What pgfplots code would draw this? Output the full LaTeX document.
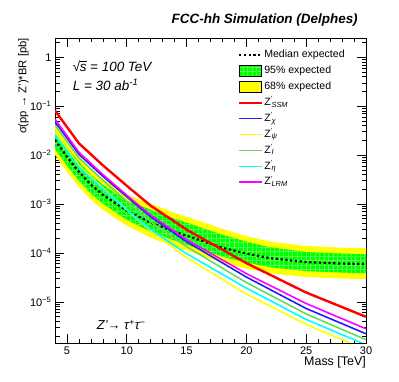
\documentclass[border=0pt]{standalone}
\usepackage{fontspec}
\setmainfont{Liberation Sans}
\usepackage{pgfplots}
\pgfplotsset{compat=1.18}
\usepackage{pgfplotstable}
\usepgfplotslibrary{fillbetween}
\usetikzlibrary{patterns.meta}

\definecolor{rootgreen}{RGB}{0,255,0}
\definecolor{rootyellow}{RGB}{255,255,0}
\definecolor{lineI}{RGB}{110,215,90}
\definecolor{rootblue}{RGB}{30,30,255}
\definecolor{rootmag}{RGB}{255,0,255}
\definecolor{rootcyan}{RGB}{0,255,255}
\definecolor{rootred}{RGB}{255,0,0}

\pgfplotstableread{
m  med      ylo      yhi      glo      ghi
4  0.0205   0.0101   0.0435   0.01343  0.0328
5  0.00923  0.00456  0.01957  0.00605  0.01477
6  0.00456  0.00225  0.00967  0.00299  0.0073
7  0.00248  0.001225 0.00526  0.001624 0.00397
8  0.00155  7.66e-4  0.00329  1.015e-3 0.00248
9  0.00106  5.24e-4  0.00225  6.94e-4  0.0017
10 7.3e-4   3.61e-4  1.55e-3  4.78e-4  1.17e-3
12 4.15e-4  2.05e-4  1.01e-3  2.72e-4  7.65e-4
14 2.72e-4  1.34e-4  6.6e-4   1.78e-4  5.0e-4
16 1.87e-4  9.24e-5  4.55e-4  1.22e-4  3.44e-4
18 1.28e-4  6.3e-5   3.1e-4   8.4e-5   2.35e-4
20 9.7e-5   4.8e-5   2.2e-4   6.35e-5  1.7e-4
22 7.8e-5   3.85e-5  1.7e-4   5.1e-5   1.3e-4
25 6.5e-5   3.2e-5   1.38e-4  4.26e-5  1.04e-4
28 6.05e-5  2.99e-5  1.28e-4  3.96e-5  9.7e-5
30 5.9e-5   2.91e-5  1.25e-4  3.86e-5  9.4e-5
}\bands

\pgfplotstableread{
m  ssm      chi      psi      I        eta      lrm
4  0.0813   0.0485   0.03031  0.04153  0.02596  0.0543
6  0.01741  0.01038  0.00619  0.00881  0.005637 0.01141
8  0.00619  0.003693 0.0021   0.00306  0.002004 0.0040
10 0.002362 0.001409 7.65e-4  0.001141 7.65e-4  0.001512
12 9.23e-4  5.50e-4  2.85e-4  4.35e-4  2.99e-4  5.91e-4
15 2.99e-4  1.70e-4  8.02e-5  1.345e-4 9.67e-5  1.868e-4
20 6.19e-5  3.21e-5  1.443e-5 2.48e-5  1.913e-5 3.78e-5
25 1.548e-5 7.30e-6  3.44e-6  5.64e-6  4.35e-6  9.23e-6
30 4.94e-6  2.22e-6  1.048e-6 1.677e-6 1.326e-6 2.81e-6
}\lines

\pgfplotsset{
  legline/.style={legend image code/.code={\draw[##1] (0bp,0bp) -- (22.6bp,0bp);}},
  legbox/.style={legend image code/.code={\draw[##1] (0bp,-5.5bp) rectangle (22.6bp,5.5bp);}},
  greenband/.style={fill=rootgreen, postaction={pattern={Hatch[angle=0,distance=4.5bp,line width=0.3bp]}, pattern color=rootgreen!65!white}},
}
\newcommand\zp[1]{Z\textsuperscript{'}\kern-0.12em\textsubscript{\textit{#1}}}

\begin{document}
\begin{tikzpicture}
\begin{axis}[
  scale only axis,
  width=311bp, height=305bp,
  ymode=log,
  xmin=4, xmax=30,
  ymin=1.44e-6, ymax=2.48,
  xtick={5,10,15,20,25,30},
  minor xtick={4,6,7,8,9,11,12,13,14,16,17,18,19,21,22,23,24,26,27,28,29},
  ytick={1e-5,1e-4,1e-3,1e-2,1e-1,1},
  yticklabels={10\textsuperscript{−5},10\textsuperscript{−4},10\textsuperscript{−3},10\textsuperscript{−2},10\textsuperscript{−1},1},
  minor ytick={2e-6,3e-6,4e-6,5e-6,6e-6,7e-6,8e-6,9e-6,
    2e-5,3e-5,4e-5,5e-5,6e-5,7e-5,8e-5,9e-5,
    2e-4,3e-4,4e-4,5e-4,6e-4,7e-4,8e-4,9e-4,
    2e-3,3e-3,4e-3,5e-3,6e-3,7e-3,8e-3,9e-3,
    2e-2,3e-2,4e-2,5e-2,6e-2,7e-2,8e-2,9e-2,
    2e-1,3e-1,4e-1,5e-1,6e-1,7e-1,8e-1,9e-1,2},
  major tick length=9bp, minor tick length=4.5bp,
  tick style={black, line width=0.6bp},
  axis line style={line width=0.8bp},
  /pgf/number format/assume math mode=true,
  ticklabel style={font=\fontsize{11}{13}\selectfont},
  title={FCC-hh Simulation (Delphes)},
  title style={at={(axis description cs:0.974,1.039)}, anchor=east, yshift=0pt, inner sep=0pt, font=\fontsize{13.5}{15}\selectfont\bfseries\itshape},
  xlabel={Mass [TeV]},
  xlabel style={at={(axis description cs:1,-0.045)}, anchor=north east, font=\fontsize{12.5}{14}\selectfont, inner sep=0pt},
  ylabel={σ(pp → Z')*BR [pb]},
  ylabel style={at={(axis description cs:-0.084,1.0)}, anchor=south east, font=\fontsize{11.3}{13}\selectfont, inner sep=0pt},
  legend style={at={(axis description cs:0.587,0.967)}, anchor=north west, draw=none, fill=none,
    font=\fontsize{10.6}{12}\selectfont, row sep=2.4bp, inner sep=0pt,
    nodes={text height=8bp, text depth=2.5bp, inner sep=1.5bp}},
  legend cell align=left,
]
% bands
\addplot[name path=yhi, draw=none, forget plot] table[x=m, y=yhi] {\bands};
\addplot[name path=ylo, draw=none, forget plot] table[x=m, y=ylo] {\bands};
\addplot[name path=ghi, draw=none, forget plot] table[x=m, y=ghi] {\bands};
\addplot[name path=glo, draw=none, forget plot] table[x=m, y=glo] {\bands};
\addplot[fill=rootyellow, draw=none, forget plot] fill between[of=yhi and ylo];
\addplot[greenband, draw=none, forget plot] fill between[of=ghi and glo];
\addplot[black, line width=2.2bp, dash pattern=on 2.2bp off 2.6bp, forget plot] table[x=m, y=med] {\bands};
% models
\addplot[rootyellow, line width=1.6bp, forget plot] table[x=m, y=psi] {\lines};
\addplot[rootcyan, line width=1.6bp, forget plot] table[x=m, y=eta] {\lines};
\addplot[lineI, line width=1.6bp, forget plot] table[x=m, y=I] {\lines};
\addplot[rootblue, line width=1.6bp, forget plot] table[x=m, y=chi] {\lines};
\addplot[rootmag, line width=1.6bp, forget plot] table[x=m, y=lrm] {\lines};
\addplot[rootred, line width=2.4bp, forget plot] table[x=m, y=ssm] {\lines};
% legend
\addlegendimage{legline, black, line width=2.2bp, dash pattern=on 2.2bp off 2.6bp}
\addlegendentry{Median expected}
\addlegendimage{legbox, greenband, draw=black, line width=0.5bp}
\addlegendentry{95\% expected}
\addlegendimage{legbox, fill=rootyellow, draw=black, line width=0.5bp}
\addlegendentry{68\% expected}
\addlegendimage{legline, draw=rootred, line width=2.4bp}
\addlegendentry{\zp{SSM}}
\addlegendimage{legline, draw=rootblue, line width=1.6bp}
\addlegendentry{\zp{χ}}
\addlegendimage{legline, draw=rootyellow, line width=1.6bp}
\addlegendentry{\zp{ψ}}
\addlegendimage{legline, draw=lineI, line width=1.6bp}
\addlegendentry{\zp{I}}
\addlegendimage{legline, draw=rootcyan, line width=1.6bp}
\addlegendentry{\zp{η}}
\addlegendimage{legline, draw=rootmag, line width=1.6bp}
\addlegendentry{\zp{LRM}}
% texts
\node[anchor=west, font=\fontsize{13.5}{15}\selectfont\itshape, inner sep=0pt] at (axis description cs:0.057,0.906) {√\kern-0.04em\rlap{\rule[0.74em]{0.52em}{0.06em}}s = 100 TeV};
\node[anchor=west, font=\fontsize{13.5}{15}\selectfont\itshape, inner sep=0pt] at (axis description cs:0.057,0.846) {L = 30 ab\textsuperscript{-1}};
\node[anchor=west, font=\fontsize{13}{15}\selectfont\itshape, inner sep=0pt] at (axis description cs:0.134,0.059) {Z'→ τ\textsuperscript{+}τ\textsuperscript{−}};
\end{axis}
\path[use as bounding box] ([shift={(-55bp,-39bp)}]current axis.south west) rectangle ([shift={(33bp,38bp)}]current axis.north east);
\end{tikzpicture}
\end{document}
